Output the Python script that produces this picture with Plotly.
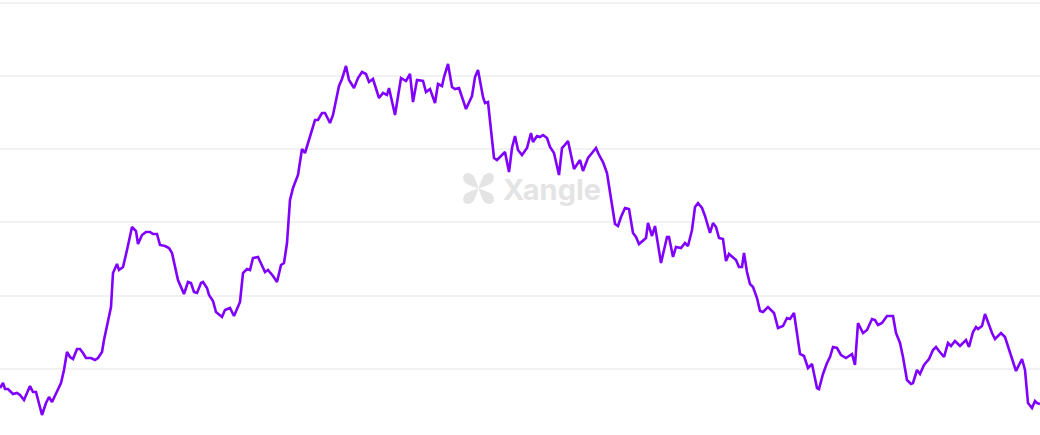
import numpy as np
import plotly.graph_objects as go

# x position (time index) and price values
day = [
    0, 3, 5, 8, 13, 17, 20, 24, 30, 33,
    36, 42, 46, 49, 52, 57, 61, 64, 67, 70,
    73, 77, 80, 83, 86, 91, 95, 98, 102, 104,
    108, 111, 113, 117, 119, 123, 127, 132, 136, 138,
    142, 146, 150, 153, 157, 160, 165, 169, 172, 175,
    178, 184, 188, 191, 194, 197, 201, 203, 207, 209,
    213, 216, 222, 225, 230, 234, 240, 243, 247, 250,
    253, 258, 265, 268, 273, 277, 281, 284, 287, 290,
    293, 298, 302, 305, 308, 313, 315, 318, 322, 325,
    330, 333, 339, 342, 346, 349, 354, 358, 362, 366,
    369, 373, 379, 383, 387, 389, 395, 401, 406, 410,
    413, 417, 423, 426, 430, 435, 438, 442, 444, 448,
    452, 455, 459, 466, 472, 475, 478, 483, 485, 488,
    492, 494, 497, 502, 505, 509, 512, 515, 518, 522,
    524, 527, 531, 533, 537, 540, 543, 547, 550, 554,
    559, 562, 564, 568, 574, 580, 583, 588, 592, 596,
    599, 603, 607, 612, 615, 618, 621, 625, 629, 633,
    636, 639, 643, 646, 648, 652, 655, 661, 667, 669,
    673, 676, 681, 685, 688, 692, 695, 698, 702, 705,
    710, 713, 716, 719, 723, 726, 729, 733, 736, 739,
    742, 744, 747, 750, 753, 757, 760, 763, 768, 774,
    778, 783, 787, 790, 794, 800, 804, 808, 812, 817,
    819, 823, 827, 830, 833, 837, 841, 846, 852, 855,
    858, 863, 867, 872, 875, 878, 882, 887, 893, 896,
    900, 903, 907, 911, 913, 917, 920, 924, 929, 933,
    936, 939, 944, 948, 951, 955, 960, 966, 969, 973,
    976, 978, 982, 985, 988, 992, 995, 1001, 1005, 1010,
    1016, 1022, 1025, 1028, 1032, 1035, 1037, 1040,
]

price = [
    54, 59, 53, 53, 48, 49, 47, 42, 56, 50,
    50, 27, 39, 45, 40, 50, 59, 72, 90, 85,
    83, 93, 93, 89, 84, 84, 82, 84, 90, 102,
    119, 135, 169, 178, 172, 175, 192, 215, 211, 198,
    207, 210, 210, 208, 208, 197, 196, 194, 189, 177,
    162, 148, 160, 159, 150, 149, 159, 160, 154, 147,
    141, 130, 125, 132, 134, 126, 140, 169, 173, 172,
    184, 185, 170, 172, 166, 160, 177, 179, 199, 242,
    254, 267, 293, 289, 299, 317, 322, 322, 329, 329,
    319, 327, 356, 363, 376, 362, 354, 364, 370, 368,
    360, 363, 344, 349, 347, 354, 327, 364, 361, 368,
    340, 362, 361, 350, 353, 339, 358, 356, 365, 378,
    355, 353, 354, 333, 346, 365, 372, 345, 339, 340,
    302, 284, 282, 287, 290, 270, 294, 306, 292, 287,
    290, 294, 309, 300, 306, 305, 307, 304, 295, 289,
    267, 294, 296, 301, 273, 282, 271, 284, 289, 294,
    287, 280, 269, 239, 218, 216, 225, 234, 233, 209,
    205, 198, 201, 204, 219, 206, 216, 179, 205, 205,
    185, 195, 194, 199, 196, 212, 235, 239, 234, 226,
    209, 219, 215, 204, 203, 181, 188, 185, 182, 175,
    175, 189, 170, 158, 155, 144, 131, 130, 135, 129,
    114, 116, 124, 123, 129, 88, 86, 74, 78, 54,
    53, 68, 79, 85, 95, 94, 87, 84, 88, 77,
    119, 109, 112, 123, 122, 117, 119, 126, 126, 109,
    99, 85, 62, 58, 59, 72, 68, 77, 83, 92,
    95, 91, 85, 99, 96, 101, 96, 102, 95, 110,
    115, 113, 116, 128, 119, 109, 103, 109, 105, 90,
    71, 83, 72, 39, 34, 41, 39, 38,
]

W, H = 1040, 435

fig = go.Figure()
fig.add_trace(go.Scatter(
    x=day, y=price, mode="lines",
    line=dict(color="#8000ff", width=2.6),
    hoverinfo="skip", showlegend=False,
))

# --- watermark logo (four-lobed X) built as a path in paper coords ---
def lobe(cx, cy, ang, L=20.0, wmax=5.5):
    u = np.array([np.cos(ang), np.sin(ang)])
    n = np.array([-u[1], u[0]])
    s1 = np.linspace(0.0, 0.62 * L, 10)
    h1 = wmax * (s1 / (0.62 * L)) ** 0.9
    th = np.linspace(-np.pi / 2, np.pi / 2, 14)
    s2 = 0.62 * L + 0.38 * L * np.cos(th)
    h2 = wmax * np.sin(-th)
    pts = []
    for s, h in zip(s1, h1):
        pts.append(s * u + h * n)
    for s, h in zip(s2[::-1], h2[::-1]):
        pts.append(s * u + h * n)
    for s, h in zip(s1[::-1], h1[::-1]):
        pts.append(s * u - h * n)
    path = ""
    for i, p in enumerate(pts):
        xp = (cx + p[0]) / W
        yp = 1 - (cy + p[1]) / H
        path += ("M" if i == 0 else "L") + f"{xp:.5f},{yp:.5f} "
    return path + "Z"

cx, cy = 478.5, 188.5
for a in (np.pi / 4, 3 * np.pi / 4, 5 * np.pi / 4, 7 * np.pi / 4):
    fig.add_shape(type="path", xref="paper", yref="paper",
                  path=lobe(cx, cy, a), fillcolor="#e4e4e4",
                  line=dict(width=0), layer="below")

fig.add_annotation(
    x=501 / W, y=1 - 189 / H, xref="paper", yref="paper",
    xanchor="left", yanchor="middle", showarrow=False,
    text="<b>Xangle</b>",
    font=dict(family="Inter, Lato, sans-serif", size=29, color="#e4e4e4"),
)

fig.update_layout(
    width=W, height=H,
    margin=dict(l=0, r=0, t=0, b=0),
    paper_bgcolor="white", plot_bgcolor="white",
    xaxis=dict(range=[0, 1040], showgrid=False, zeroline=False,
               showticklabels=False, showline=False, fixedrange=True),
    yaxis=dict(range=[7, 442], tick0=0, dtick=73.2, showgrid=True,
               gridcolor="#f2f2f5", gridwidth=1.5, zeroline=False,
               showticklabels=False, showline=False, fixedrange=True),
)

fig.write_html(
    "out.html",
    config={"displayModeBar": False},
    post_script="document.body.style.margin='0';document.body.style.overflow='hidden';",
)
